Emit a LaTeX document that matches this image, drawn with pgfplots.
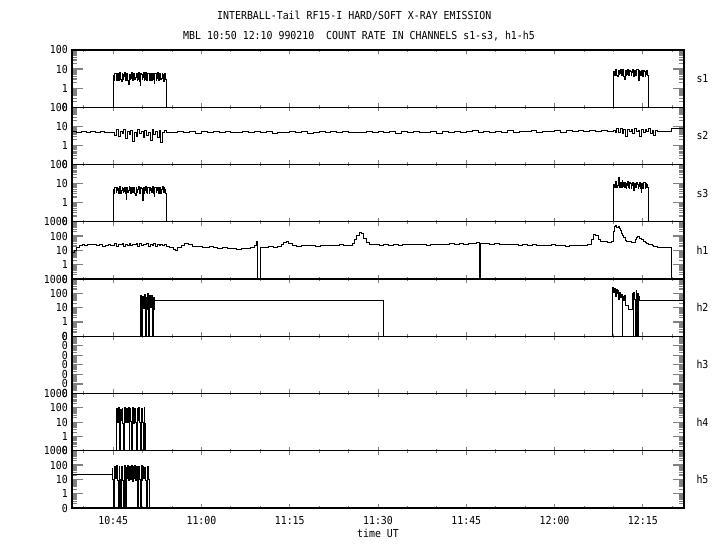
\documentclass[border=0pt]{standalone}
\usepackage{fontspec}
\usepackage{graphicx}
\usepackage{pgfplots}
\pgfplotsset{compat=1.18}
\newfontfamily\tf{DejaVu Sans Mono}[FakeStretch=0.9]
\newcommand\tfont{\tf\fontsize{11bp}{13bp}\selectfont}
\setmainfont{DejaVu Sans Mono}[FakeStretch=0.9]

\pgfplotsset{
  width=612bp, height=57.25bp, scale only axis,
  xmin=380, xmax=1420,
  xtick={450,600,750,900,1050,1200,1350},
  minor xtick={400,500,550,650,700,800,850,950,1000,1100,1150,1250,1300,1400},
  xticklabels={},
  clip mode=individual,
  axis line style={line width=1.1bp},
  x tick style={line width=0.9bp, /pgfplots/major tick length=4bp, /pgfplots/minor tick length=2bp},
  y tick style={line width=1.2bp, /pgfplots/major tick length=11bp, /pgfplots/minor tick length=5.5bp},
  tick align=inside,
  every tick label/.append style={font=\tfont},
  yticklabel style={inner sep=0pt, xshift=-4bp},
}
\newcommand\rlab[1]{\node[anchor=west, font=\tfont, xshift=9bp] at (rel axis cs:1,0.5) {#1};}

\begin{document}
\begin{tikzpicture}
\useasboundingbox (0,0) rectangle (720bp,550bp);
\node[anchor=base west, font=\tfont, inner sep=0pt] at (217bp,530.5bp) {INTERBALL-Tail RF15-I HARD/SOFT X-RAY EMISSION};
\node[anchor=base west, font=\tfont, inner sep=0pt] at (183bp,510.5bp) {MBL 10:50 12:10 990210\ \ COUNT RATE IN CHANNELS s1-s3, h1-h5};

% s1
\begin{axis}[ymode=log, anchor=south west, at={(72bp,442.75bp)},
  ymin=0.1, ymax=100, ytick={0.1,1,10,100}, yticklabels={0,1,10,100},
  minor ytick={0.2,0.3,0.4,0.5,0.6,0.7,0.8,0.9,2,3,4,5,6,7,8,9,20,30,40,50,60,70,80,90}]
\addplot[const plot, black, line width=1bp, mark=none] coordinates {(380,0.1)
(450,4.5)(451,2.4)(452,3.0)(453,6.0)(454,5.8)(455,2.8)(456,2.6)(457,5.9)(458,6.2)(459,2.5)
(460,3.5)(461,6.4)(462,4.8)(463,2.7)(464,2.2)(465,6.1)(466,5.5)(467,3.0)(468,3.9)(469,5.7)
(470,6.5)(471,2.6)(472,2.8)(473,6.2)(474,4.2)(475,2.5)(476,1.6)(477,5.5)(478,5.1)(479,2.9)
(480,3.3)(481,6.6)(482,6.0)(483,2.4)(484,2.5)(485,6.0)(486,4.6)(487,2.7)(488,3.8)(489,5.8)
(490,5.9)(491,2.6)(492,2.9)(493,6.3)(494,4.0)(495,2.3)(496,1.4)(497,5.6)(498,5.3)(499,2.8)
(500,3.6)(501,6.1)(502,6.3)(503,2.5)(504,2.7)(505,6.4)(506,4.9)(507,2.6)(508,3.1)(509,5.9)
(510,5.6)(511,2.7)(512,2.4)(513,6.2)(514,6.1)(515,2.4)(516,3.7)(517,5.7)(518,4.4)(519,2.9)
(520,1.8)(521,6.0)(522,5.7)(523,2.5)(524,3.2)(525,6.5)(526,6.4)(527,2.6)(528,2.6)(529,5.8)
(530,4.7)(531,2.8)(532,3.4)(533,6.1)(534,5.2)(535,2.4)(536,2.3)(537,5.9)(538,6.0)(539,3.0)
(540,0.1)
(1301,7.5)(1302,4.6)(1303,5.0)(1304,9.0)(1305,9.2)(1306,4.4)(1307,4.3)(1308,8.8)(1309,8.1)(1310,4.9)
(1311,6.0)(1312,9.6)(1313,9.8)(1314,4.5)(1315,4.8)(1316,9.1)(1317,7.0)(1318,4.2)(1319,3.0)(1320,8.7)
(1321,8.6)(1322,4.7)(1323,5.5)(1324,9.4)(1325,9.5)(1326,4.4)(1327,4.5)(1328,8.9)(1329,7.8)(1330,4.6)
(1331,6.3)(1332,9.3)(1333,10.0)(1334,4.3)(1335,4.1)(1336,8.5)(1337,8.3)(1338,4.8)(1339,5.2)(1340,9.0)
(1341,9.0)(1342,4.2)(1343,2.6)(1344,8.2)(1345,7.2)(1346,4.4)(1347,5.8)(1348,8.6)(1349,8.8)(1350,4.0)
(1351,4.6)(1352,8.1)(1353,7.6)(1354,4.3)(1355,5.1)(1356,8.4)(1357,8.0)(1358,4.5)
(1359,0.1)(1420,0.1)};
\rlab{s1}
\end{axis}

% s2
\begin{axis}[ymode=log, anchor=south west, at={(72bp,385.5bp)},
  ymin=0.1, ymax=100, ytick={0.1,1,10,100}, yticklabels={0,1,10,100},
  minor ytick={0.2,0.3,0.4,0.5,0.6,0.7,0.8,0.9,2,3,4,5,6,7,8,9,20,30,40,50,60,70,80,90}]
\addplot[const plot, black, line width=1bp, mark=none] coordinates {(380,5.5)(388,4.8)(396,5.2)(404,4.6)(412,5.4)(420,4.9)(428,5.1)(436,4.5)(444,5.0)
(450,4.8)(453,3.2)(456,6.5)(459,2.9)(462,5.6)(465,4.0)(468,7.0)(471,2.4)(474,5.2)(477,3.6)
(480,6.2)(483,1.6)(486,4.9)(489,3.0)(492,6.8)(495,4.2)(498,5.5)(501,2.6)(504,6.0)(507,3.4)
(510,5.0)(513,1.8)(516,6.6)(519,3.8)(522,5.3)(525,2.7)(528,6.1)(531,1.5)(534,4.6)(537,5.8)
(540,5.0)(550,4.6)(560,5.3)(570,4.8)(580,5.5)(590,4.4)(600,5.1)(610,4.9)(620,5.6)(630,4.7)
(640,5.2)(650,4.5)(660,5.0)(670,5.4)(680,4.6)(690,5.1)(700,4.8)(710,5.3)(720,4.3)(730,5.0)
(740,4.9)(750,5.5)(760,4.7)(770,5.2)(780,4.4)(790,5.0)(800,5.6)(810,4.8)(820,5.1)(830,4.6)
(840,5.3)(850,4.9)(860,5.0)(870,4.5)(880,5.4)(890,4.8)(900,5.2)(910,4.7)(920,5.5)(930,4.3)
(940,5.1)(950,4.9)(960,5.6)(970,4.6)(980,5.0)(990,5.3)(1000,4.4)(1010,5.2)(1020,4.8)(1030,5.5)
(1040,4.7)(1050,5.1)(1060,5.7)(1070,4.9)(1080,5.3)(1090,4.6)(1100,5.4)(1110,5.0)(1120,5.8)(1130,4.8)
(1140,5.5)(1150,5.1)(1160,5.9)(1170,4.9)(1180,5.6)(1190,5.2)(1200,5.8)(1210,5.0)(1220,6.0)(1230,5.3)
(1240,5.7)(1250,5.4)(1260,6.1)(1270,5.2)(1280,5.9)(1290,5.5)
(1300,6.0)(1303,4.5)(1306,7.5)(1309,5.0)(1312,8.0)(1315,4.2)(1318,6.8)(1321,3.0)(1324,7.2)(1327,5.5)
(1330,6.5)(1333,4.0)(1336,7.8)(1339,5.2)(1342,6.3)(1345,2.8)(1348,7.0)(1351,4.8)(1354,6.6)(1357,5.4)
(1360,7.4)(1363,4.4)(1366,6.2)(1369,3.5)(1372,5.8)
(1375,5.3)(1398,7.5)(1420,7.5)};
\rlab{s2}
\end{axis}

% s3
\begin{axis}[ymode=log, anchor=south west, at={(72bp,328.25bp)},
  ymin=0.1, ymax=100, ytick={0.1,1,10,100}, yticklabels={0,1,10,100},
  minor ytick={0.2,0.3,0.4,0.5,0.6,0.7,0.8,0.9,2,3,4,5,6,7,8,9,20,30,40,50,60,70,80,90}]
\addplot[const plot, black, line width=1bp, mark=none] coordinates {(380,0.1)
(450,5.0)(451,3.1)(452,3.5)(453,6.6)(454,6.2)(455,3.3)(456,4.1)(457,6.4)(458,5.6)(459,3.0)
(460,2.9)(461,6.7)(462,6.8)(463,3.2)(464,4.4)(465,6.3)(466,5.2)(467,3.4)(468,3.8)(469,6.5)
(470,6.0)(471,3.1)(472,1.5)(473,6.2)(474,5.4)(475,3.3)(476,4.6)(477,6.8)(478,6.5)(479,3.0)
(480,3.2)(481,6.4)(482,5.8)(483,3.5)(484,4.0)(485,6.6)(486,6.3)(487,3.2)(488,2.5)(489,6.1)
(490,5.1)(491,3.4)(492,4.8)(493,6.9)(494,6.9)(495,3.1)(496,3.6)(497,6.5)(498,5.5)(499,3.3)
(500,1.3)(501,6.2)(502,6.1)(503,3.0)(504,4.3)(505,6.7)(506,5.7)(507,3.4)(508,3.0)(509,6.4)
(510,6.6)(511,3.2)(512,4.5)(513,6.3)(514,5.3)(515,3.5)(516,3.9)(517,6.8)(518,6.4)(519,3.1)
(520,2.2)(521,6.5)(522,5.9)(523,3.3)(524,4.2)(525,6.6)(526,6.0)(527,3.0)(528,3.4)(529,6.2)
(530,5.2)(531,3.2)(532,4.7)(533,6.9)(534,6.7)(535,3.4)(536,3.3)(537,6.4)(538,5.0)(539,3.1)
(540,0.1)
(1301,9.5)(1302,6.0)(1303,7.0)(1304,12.5)(1305,12.0)(1306,6.4)(1307,8.2)(1308,13.0)(1309,20.0)(1310,6.8)
(1311,6.5)(1312,12.0)(1313,11.0)(1314,6.0)(1315,14.5)(1316,7.0)(1317,9.0)(1318,11.5)(1319,6.0)(1320,10.8)
(1321,10.5)(1322,5.8)(1323,7.8)(1324,12.2)(1325,12.5)(1326,6.2)(1327,5.5)(1328,11.0)(1329,9.8)(1330,5.6)
(1331,8.4)(1332,12.0)(1333,11.5)(1334,5.9)(1335,4.5)(1336,10.5)(1337,10.0)(1338,6.0)(1339,7.2)(1340,11.2)
(1341,9.2)(1342,5.5)(1343,6.8)(1344,10.6)(1345,10.8)(1346,5.8)(1347,3.5)(1348,10.2)(1349,9.6)(1350,5.7)
(1351,7.5)(1352,11.0)(1353,11.2)(1354,5.6)(1355,6.2)(1356,10.0)(1357,8.8)(1358,5.9)
(1359,0.1)(1420,0.1)};
\rlab{s3}
\end{axis}

% h1
\begin{axis}[ymode=log, anchor=south west, at={(72bp,271bp)},
  ymin=0.1, ymax=1000, ytick={0.1,1,10,100,1000}, yticklabels={0,1,10,100,1000},
  minor ytick={0.2,0.3,0.4,0.5,0.6,0.7,0.8,0.9,2,3,4,5,6,7,8,9,20,30,40,50,60,70,80,90,200,300,400,500,600,700,800,900}]
\addplot[const plot, black, line width=1bp, mark=none] coordinates {(380,7)(384,10)(388,16)(392,21)(397,24)(402,22)(407,26)(412,24)(417,27)(422,23)(427,25)(432,18)(437,21)(442,24)(446,22)
(450,22)(453,28)(456,19)(459,26)(462,24)(465,30)(468,20)(471,27)(474,23)(477,29)(480,21)(483,26)(486,25)(489,31)(492,19)(495,28)(498,22)(501,27)(504,24)(507,30)(510,20)(513,25)(516,23)(519,28)(522,18)(525,26)(528,22)(531,24)(534,21)(537,25)
(540,20)(546,17)(552,12)(556,10)(560,16)(566,22)(572,28)(578,24)(584,20)(590,18)(596,19)(602,17)(608,16)(614,18)(620,15)(628,14)(636,15)(644,13)(652,14)(660,12)(668,14)(676,13)(684,15)(690,22)(693,40)(696,0.1)(700,15)(706,16)(714,18)(722,17)(730,19)(736,24)(740,38)(744,40)(748,28)(754,22)(762,20)(770,22)(778,21)(786,23)(794,20)(802,22)(810,21)(818,23)(826,22)(834,24)(842,21)(850,23)(856,30)(860,55)(864,110)(868,170)(872,140)(876,70)(880,35)(886,26)(894,24)(902,22)(910,25)(918,23)(926,24)(934,22)(942,25)(950,26)(958,24)(966,27)(974,25)(982,23)(990,26)(998,24)(1006,27)(1014,25)(1022,28)(1030,26)(1038,29)(1046,27)(1054,30)(1062,32)(1068,35)(1072,0.1)(1075,32)(1082,28)(1090,26)(1098,29)(1106,25)(1114,27)(1122,24)(1130,26)(1138,23)(1146,25)(1154,22)(1162,24)(1170,21)(1178,23)(1186,22)(1194,24)(1202,21)(1210,23)(1218,20)(1226,22)(1234,21)(1242,23)(1250,22)(1256,26)(1262,60)(1266,130)(1270,110)(1274,60)(1278,42)(1284,40)(1290,38)(1296,42)(1300,200)(1302,450)(1304,520)(1306,380)(1308,480)(1310,350)(1312,250)(1314,160)(1316,110)(1318,75)(1320,50)(1323,45)(1326,40)(1330,36)(1334,35)(1337,55)(1339,85)(1341,100)(1343,90)(1345,70)(1348,55)(1351,42)(1354,35)(1357,30)(1360,26)(1363,24)(1366,21)(1369,20)(1372,18)(1375,16)(1398,0.1)(1420,0.1)};
\rlab{h1}
\end{axis}

% h2
\begin{axis}[ymode=log, anchor=south west, at={(72bp,213.75bp)},
  ymin=0.1, ymax=1000, ytick={0.1,1,10,100,1000}, yticklabels={0,1,10,100,1000},
  minor ytick={0.2,0.3,0.4,0.5,0.6,0.7,0.8,0.9,2,3,4,5,6,7,8,9,20,30,40,50,60,70,80,90,200,300,400,500,600,700,800,900}]
\addplot[const plot, black, line width=1bp, mark=none] coordinates {(380,0.1)(497,70)(498.5,0.1)(500,60)(501.5,9)(503,80)(504.5,0.1)(506,50)(507.5,8)(509,90)(510.5,0.1)(512,65)(513.5,10)(515,75)(516.5,0.1)(518,55)(519.5,8)(521,34)(908.5,0.1)
(1299,250)(1300.5,120)(1302,220)(1303.5,60)(1305,180)(1306.5,90)(1308,150)(1309.5,40)(1311,110)(1312.5,50)(1314,80)(1315,0.1)(1316,60)(1317.5,30)(1319,70)(1320.5,14)(1325,7)
(1333,100)(1334,0.1)(1335,120)(1336.5,40)(1338,0.1)(1339,150)(1340,0.1)(1341,90)(1342,0.1)(1343,60)(1344,34)(1420,34)};
\rlab{h2}
\end{axis}

% h3
\begin{axis}[ymode=log, anchor=south west, at={(72bp,156.5bp)}, ymin=1e-6, ymax=1,
  ytick={1e-6,1e-5,1e-4,1e-3,1e-2,1e-1,1}, yticklabels={0,0,0,0,0,0,0},
  minor ytick={2e-6,3e-6,4e-6,5e-6,6e-6,7e-6,8e-6,9e-6,2e-5,3e-5,4e-5,5e-5,6e-5,7e-5,8e-5,9e-5,2e-4,3e-4,4e-4,5e-4,6e-4,7e-4,8e-4,9e-4,0.002,0.003,0.004,0.005,0.006,0.007,0.008,0.009,0.02,0.03,0.04,0.05,0.06,0.07,0.08,0.09,0.2,0.3,0.4,0.5,0.6,0.7,0.8,0.9}]
\rlab{h3}
\end{axis}

% h4
\begin{axis}[ymode=log, anchor=south west, at={(72bp,99.25bp)},
  ymin=0.1, ymax=1000, ytick={0.1,1,10,100,1000}, yticklabels={0,1,10,100,1000},
  minor ytick={0.2,0.3,0.4,0.5,0.6,0.7,0.8,0.9,2,3,4,5,6,7,8,9,20,30,40,50,60,70,80,90,200,300,400,500,600,700,800,900}]
\addplot[const plot, black, line width=1bp, mark=none] coordinates {(380,0.1)
(456,90)(457.5,9)(459,100)(460.5,0.1)(462,80)(463.5,12)(465,95)(466.5,8)(468,0.1)(469.5,110)
(471,10)(472.5,85)(474,9)(475.5,100)(477,0.1)(478.5,90)(480,11)(481.5,0.1)(483,105)(484.5,8)
(486,95)(487.5,10)(489,0.1)(490.5,88)(492,12)(493.5,100)(495,9)(496.5,0.1)(498,92)(499.5,10)
(501,0.1)(502.5,98)(504,8)(505.5,0.1)(1420,0.1)};
\rlab{h4}
\end{axis}

% h5
\begin{axis}[ymode=log, anchor=south west, at={(72bp,42bp)},
  ymin=0.1, ymax=1000, ytick={0.1,1,10,100,1000}, yticklabels={0,1,10,100,1000},
  minor ytick={0.2,0.3,0.4,0.5,0.6,0.7,0.8,0.9,2,3,4,5,6,7,8,9,20,30,40,50,60,70,80,90,200,300,400,500,600,700,800,900},
  xticklabels={10:45,11:00,11:15,11:30,11:45,12:00,12:15},
  xticklabel style={anchor=base, yshift=-16bp}]
\addplot[const plot, black, line width=1bp, mark=none] coordinates {(380,22)
(448,60)(449.5,10)(451,0.1)(452.5,80)(454,12)(455.5,90)(457,8)(458.5,0.1)(460,85)(461.5,10)
(463,0.1)(464.5,75)(466,9)(467.5,0.1)(469,95)(470.5,0.1)(472,70)(473.5,11)(475,100)(476.5,8)
(478,85)(479.5,10)(481,90)(482.5,7)(484,80)(485.5,12)(487,95)(488.5,9)(490,75)(491.5,0.1)
(493,85)(494.5,10)(496,0.1)(497.5,90)(499,8)(500.5,80)(502,11)(503.5,70)(505,9)(506.5,0.1)
(508,85)(509.5,10)(511,0.1)(1420,0.1)};
\rlab{h5}
\node[anchor=base, font=\tfont, yshift=-29.5bp] at (rel axis cs:0.5,0) {time UT};
\end{axis}
\end{tikzpicture}
\end{document}
